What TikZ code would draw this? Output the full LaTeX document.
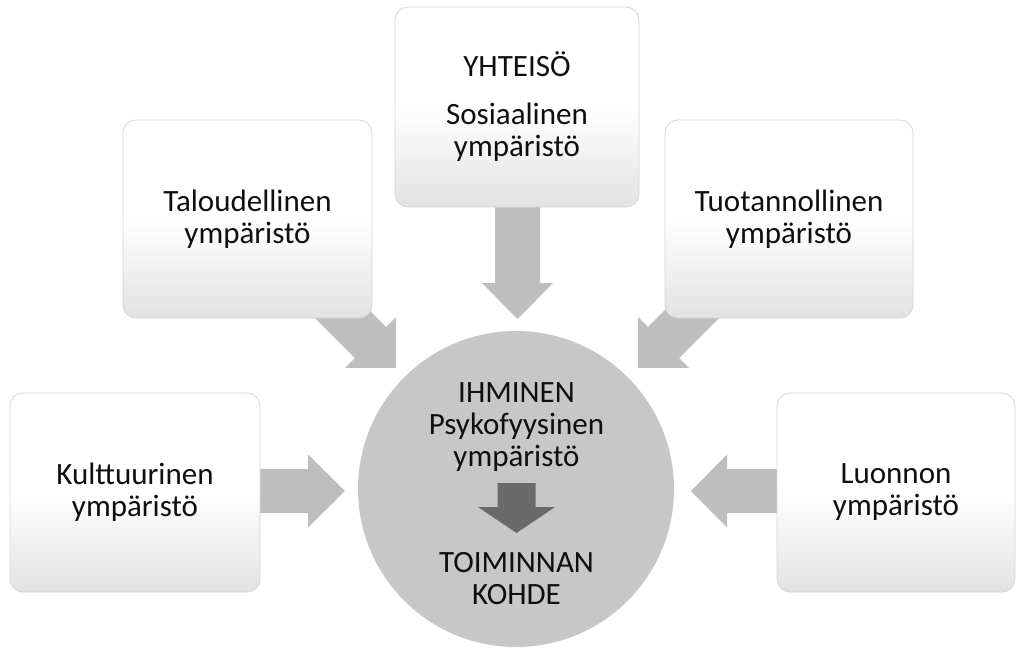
\documentclass[tikz,border=0pt]{standalone}
\usepackage{fontspec}
\setmainfont{Carlito}
\usetikzlibrary{calc}
\definecolor{boxline}{RGB}{214,214,214}
\definecolor{boxbottom}{RGB}{226,226,226}
\definecolor{arrowgray}{RGB}{190,190,190}
\definecolor{circlegray}{RGB}{199,199,199}
\definecolor{darkarrow}{RGB}{106,106,106}
\definecolor{textcol}{RGB}{15,15,15}
\newcommand\blockarrow[7]{%
  \fill[#7, shift={#1}, rotate=#2]
    (0,-#5) -- (#3,-#5) -- (#3,-#6) -- ({#3+#4},0) -- (#3,#6) -- (#3,#5) -- (0,#5) -- cycle;}
\begin{document}
\begin{tikzpicture}[x=1pt,y=-1pt,
  envbox/.style={draw=boxline, line width=0.8pt, rounded corners=13pt,
    top color=white, bottom color=boxbottom, middle color=white,
    align=center, inner sep=0pt, text=textcol,
    font=\fontsize{31}{32}\selectfont},
  circtext/.style={align=center, inner sep=0pt, text=textcol,
    font=\fontsize{31}{32}\selectfont}]
\useasboundingbox (0,0) rectangle (1016,650);
\fill[white] (0,0) rectangle (1016,650);
% tails of the block arrows
\coordinate (tTop) at (517.5,200);
\coordinate (tTL) at (321,293);
\coordinate (tTR) at (713,293);
\coordinate (tL) at (255,491);
\coordinate (tR) at (782,491);
\coordinate (tC) at (516.5,483);
% block arrows (behind the boxes)
\blockarrow{(tTop)}{-90}{83}{36}{22.5}{35.5}{arrowgray}
\blockarrow{(tTL)}{-45}{70}{36}{22}{36}{arrowgray}
\blockarrow{(tTR)}{-135}{70}{36}{22}{36}{arrowgray}
\blockarrow{(tL)}{0}{53}{37}{22}{36.5}{arrowgray}
\blockarrow{(tR)}{180}{55}{36}{22}{36.5}{arrowgray}
% boxes
\node[envbox, minimum width=244pt, minimum height=200pt] (soc) at (517,107)
  {YHTEISÖ\\[16pt]Sosiaalinen\\ympäristö};
\node[envbox, minimum width=249pt, minimum height=198pt] (tal) at (247.5,219)
  {Taloudellinen\\ympäristö};
\node[envbox, minimum width=248pt, minimum height=198pt] (tuo) at (789,219)
  {Tuotannollinen\\ympäristö};
\node[envbox, minimum width=250pt, minimum height=199pt] (kul) at (135,492.5)
  {Kulttuurinen\\ympäristö};
\node[envbox, minimum width=238pt, minimum height=199pt] (luo) at (896,492.5)
  {Luonnon\\ympäristö};
% central circle
\node[circle, fill=circlegray, minimum size=316pt, inner sep=0pt] (ihm) at (516,489) {};
\node[circtext] (ihmt) at (516.5,427) {IHMINEN\\Psykofyysinen\\ympäristö};
\node[circtext] (kohde) at (516.5,579) {TOIMINNAN\\KOHDE};
\blockarrow{(tC)}{-90}{24}{26}{19}{38.5}{darkarrow}
\end{tikzpicture}
\end{document}
